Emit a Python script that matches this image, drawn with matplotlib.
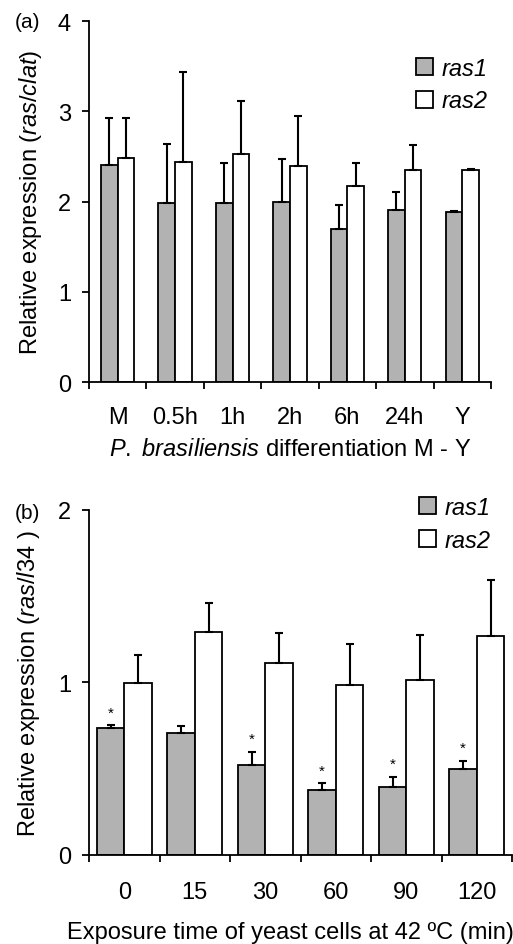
import numpy as np
import matplotlib
matplotlib.use('Agg')
import matplotlib.pyplot as plt

plt.rcParams['font.family'] = ['Liberation Sans', 'DejaVu Sans']
plt.rcParams['mathtext.fontset'] = 'custom'
plt.rcParams['mathtext.rm'] = 'Liberation Sans'
plt.rcParams['mathtext.it'] = 'Liberation Sans:italic'

# panel (a): differentiation M -> Y
cats_a = ['M', '0.5h', '1h', '2h', '6h', '24h', 'Y']
ras1_a = [2.40, 1.98, 1.98, 2.00, 1.69, 1.91, 1.88]
ras1_a_err = [0.53, 0.66, 0.45, 0.47, 0.27, 0.19, 0.02]
ras2_a = [2.48, 2.44, 2.53, 2.39, 2.17, 2.35, 2.35]
ras2_a_err = [0.45, 0.99, 0.58, 0.56, 0.26, 0.28, 0.01]

# panel (b): heat shock at 42 C
cats_b = ['0', '15', '30', '60', '90', '120']
ras1_b = [0.733, 0.706, 0.521, 0.376, 0.392, 0.498]
ras1_b_err = [0.020, 0.043, 0.077, 0.039, 0.061, 0.048]
ras2_b = [0.996, 1.290, 1.112, 0.984, 1.013, 1.270]
ras2_b_err = [0.162, 0.167, 0.173, 0.238, 0.261, 0.322]
signif_b = [True, False, True, True, True, True]

GRAY = '#b2b2b2'
FS = 17


def draw_panel(ax, cats, m1, e1, m2, e2, width, ymax):
    x = np.arange(len(cats))
    for vals, errs, off, col, lab in [(m1, e1, -width / 2, GRAY, 'ras1'),
                                      (m2, e2, width / 2, 'white', 'ras2')]:
        ax.bar(x + off, vals, width, color=col, edgecolor='black', linewidth=1.3,
               label=lab, zorder=2)
        ax.errorbar(x + off, vals, yerr=[np.zeros(len(vals)), errs], fmt='none',
                    ecolor='black', elinewidth=1.5, capsize=3, capthick=1.5, zorder=3)
    ax.set_xlim(-0.5, len(cats) - 0.5)
    ax.set_ylim(0, ymax)
    ax.set_yticks(range(ymax + 1))
    ax.set_xticks(x)
    ax.set_xticklabels(cats)
    ax.set_xticks(np.arange(len(cats) + 1) - 0.5, minor=True)
    ax.tick_params(axis='x', which='major', length=0, pad=17, labelsize=FS)
    ax.tick_params(axis='x', which='minor', length=5, width=1.3, direction='out')
    ax.tick_params(axis='y', length=5, width=1.3, labelsize=FS, pad=8)
    for s in ['top', 'right']:
        ax.spines[s].set_visible(False)
    for s in ['left', 'bottom']:
        ax.spines[s].set_linewidth(1.3)
    return x


def add_legend(ax, x0, y0):
    ax.legend(loc='upper left', bbox_to_anchor=(x0, y0), bbox_transform=fig.transFigure,
              frameon=False, prop={'style': 'italic', 'size': FS}, handlelength=0.72,
              handleheight=0.72, handletextpad=0.35, labelspacing=0.4,
              borderaxespad=0, borderpad=0)


fig = plt.figure(figsize=(5.13, 9.45), dpi=100)

ax1 = fig.add_axes([0.1735, 0.5947, 0.7835, 0.382])
draw_panel(ax1, cats_a, ras1_a, ras1_a_err, ras2_a, ras2_a_err, 0.29, 4)
ax1.set_ylabel(r'Relative expression ($ras/clat$)', fontsize=FS)
ax1.yaxis.set_label_coords(-0.112, 0.5)
ax1.set_xlabel(r'$P.\ brasiliensis$ differentiation M - Y', fontsize=FS)
ax1.xaxis.set_label_coords(0.5, -0.155)
add_legend(ax1, 0.811, 0.9386)
fig.text(0.053, 0.976, '(a)', fontsize=15, va='center', ha='center')

ax2 = fig.add_axes([0.1735, 0.0942, 0.825, 0.3654])
x2 = draw_panel(ax2, cats_b, ras1_b, ras1_b_err, ras2_b, ras2_b_err, 0.39, 2)
for xi, v, e, s in zip(x2, ras1_b, ras1_b_err, signif_b):
    if s:
        ax2.annotate('*', (xi - 0.195, v + e), xytext=(0, 4), textcoords='offset points',
                     ha='center', va='bottom', fontsize=11)
ax2.tick_params(axis='x', which='major', pad=19)
ax2.set_ylabel(r'Relative expression ($ras/l34$ )', fontsize=FS)
ax2.yaxis.set_label_coords(-0.11, 0.5)
ax2.set_xlabel('Exposure time of yeast cells at 42 \u00baC (min)', fontsize=FS)
ax2.xaxis.set_label_coords(0.475, -0.191)
add_legend(ax2, 0.817, 0.474)
fig.text(0.053, 0.457, '(b)', fontsize=15, va='center', ha='center')

fig.savefig('out.png', dpi=100)
